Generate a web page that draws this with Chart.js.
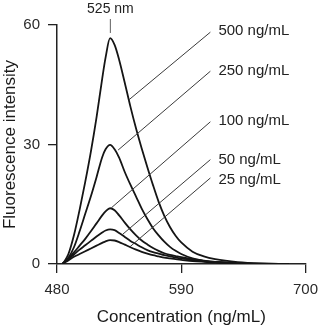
<!DOCTYPE html>
<html>
<head>
<meta charset="utf-8">
<script src="https://cdn.jsdelivr.net/npm/chart.js@4"></script>
<style>
  html, body { margin: 0; padding: 0; background: #ffffff; }
  canvas { display: block; }
</style>
</head>
<body>
<canvas id="c" width="326" height="330"></canvas>
<script>
// ---- data ----
const wavelengths = [485, 490, 495, 500, 505, 510, 515, 520, 523, 527, 531, 535, 540, 545, 550, 555, 560, 565, 570, 575, 580, 585, 590, 600, 610, 620, 640, 660, 685];
const series500 = [0, 2.4, 7.2, 13.6, 20.6, 28.2, 36.8, 46.5, 51.8, 56.7, 55.0, 51.3, 45.5, 39.5, 34.0, 29.0, 24.3, 19.8, 15.6, 12.1, 9.3, 7.1, 5.4, 3.1, 1.9, 1.2, 0.45, 0.12, 0];
const series250 = [0, 1.5, 4.2, 8.2, 12.6, 17.0, 21.8, 26.8, 28.8, 29.9, 28.8, 26.7, 23.1, 19.9, 16.9, 13.9, 11.3, 9.0, 7.2, 5.6, 4.3, 3.3, 2.5, 1.4, 0.85, 0.5, 0.18, 0.05, 0];
const series100 = [0.1, 1.3, 2.9, 4.6, 6.3, 8.2, 10.2, 12.2, 13.2, 14.0, 13.5, 12.2, 10.4, 8.7, 7.2, 5.9, 4.9, 4.0, 3.3, 2.7, 2.3, 2.0, 1.7, 1.2, 0.8, 0.5, 0.2, 0.06, 0];
const series50 = [0.1, 1.2, 2.4, 3.6, 4.7, 5.8, 6.9, 7.9, 8.4, 8.7, 8.5, 7.8, 6.8, 5.8, 5.0, 4.2, 3.5, 3.0, 2.6, 2.2, 1.9, 1.65, 1.4, 1.0, 0.7, 0.45, 0.18, 0.05, 0];
const series25 = [0.1, 0.9, 1.8, 2.5, 3.2, 3.9, 4.6, 5.3, 5.7, 6.0, 5.9, 5.5, 4.85, 4.2, 3.6, 3.05, 2.6, 2.2, 1.9, 1.6, 1.4, 1.2, 1.05, 0.75, 0.55, 0.38, 0.15, 0.05, 0];
const seriesLabels = ['500 ng/mL', '250 ng/mL', '100 ng/mL', '50 ng/mL', '25 ng/mL'];
const xTicks = [480, 590, 700];
const yTicks = [0, 30, 60];
// leader lines (data units): point on curve -> label end
const leaderCurveX = [543.6, 534.1, 528.1, 537.5, 544.5];
const leaderCurveY = [41.2, 28.6, 14.1, 7.3, 4.3];
const leaderEndX = 615.8;
const leaderEndY = [58.2, 48.4, 35.7, 26.2, 21.6];
const labelX = 622.9;
const labelY = [58.6, 48.6, 36.0, 26.1, 21.0];
const peakLabel = '525 nm';
const peakX = 527.3;
const peakLineY = [58.0, 61.5];
const peakLabelY = 64.0;

// ---- chart ----
const FONT = '"Liberation Sans", Arial, Helvetica, sans-serif';
const allSeries = [series500, series250, series100, series50, series25];

const annotations = {
  id: 'annotations',
  afterDraw(chart) {
    const ctx = chart.ctx;
    const xs = chart.scales.x, ys = chart.scales.y;
    ctx.save();
    // leader lines
    ctx.strokeStyle = '#3a3a3a';
    ctx.lineWidth = 1;
    for (let i = 0; i < seriesLabels.length; i++) {
      ctx.beginPath();
      ctx.moveTo(xs.getPixelForValue(leaderCurveX[i]), ys.getPixelForValue(leaderCurveY[i]));
      ctx.lineTo(xs.getPixelForValue(leaderEndX), ys.getPixelForValue(leaderEndY[i]));
      ctx.stroke();
    }
    // labels
    ctx.fillStyle = '#222';
    ctx.font = '15px ' + FONT;
    ctx.textAlign = 'left';
    ctx.textBaseline = 'middle';
    for (let i = 0; i < seriesLabels.length; i++) {
      ctx.fillText(seriesLabels[i], xs.getPixelForValue(labelX), ys.getPixelForValue(labelY[i]));
    }
    // peak marker
    ctx.strokeStyle = '#777';
    ctx.lineWidth = 1.2;
    ctx.beginPath();
    ctx.moveTo(xs.getPixelForValue(peakX), ys.getPixelForValue(peakLineY[0]));
    ctx.lineTo(xs.getPixelForValue(peakX), ys.getPixelForValue(peakLineY[1]));
    ctx.stroke();
    ctx.font = '14px ' + FONT;
    ctx.textAlign = 'center';
    ctx.fillText(peakLabel, xs.getPixelForValue(peakX), ys.getPixelForValue(peakLabelY));
    ctx.restore();
  }
};

new Chart(document.getElementById('c'), {
  type: 'line',
  data: {
    datasets: allSeries.map((s, i) => ({
      label: seriesLabels[i],
      data: wavelengths.map((w, j) => ({ x: w, y: s[j] })),
      borderColor: '#151515',
      borderWidth: 1.8,
      pointRadius: 0,
      fill: false,
      cubicInterpolationMode: 'monotone'
    }))
  },
  options: {
    responsive: false,
    animation: false,
    events: [],
    layout: { padding: { top: 25, right: 13, left: 0, bottom: 0 } },
    plugins: { legend: { display: false }, tooltip: { enabled: false } },
    scales: {
      x: {
        type: 'linear',
        min: xTicks[0],
        max: xTicks[xTicks.length - 1],
        afterBuildTicks: (s) => { s.ticks = xTicks.map(v => ({ value: v })); },
        afterFit: (s) => { s.height = 66; },
        grid: { display: true, drawOnChartArea: false, drawTicks: true, tickLength: 9, color: '#222', lineWidth: 1.3 },
        border: { display: true, color: '#222', width: 1.5 },
        ticks: { font: { family: FONT, size: 15 }, color: '#2a2a2a', padding: 8, maxRotation: 0 },
        title: { display: true, text: 'Concentration (ng/mL)', font: { family: FONT, size: 17 }, color: '#1a1a1a', padding: { top: 0, bottom: 2 } }
      },
      y: {
        type: 'linear',
        min: yTicks[0],
        max: yTicks[yTicks.length - 1],
        afterBuildTicks: (s) => { s.ticks = yTicks.map(v => ({ value: v })); },
        afterFit: (s) => { s.width = 57; },
        grid: { display: true, drawOnChartArea: false, drawTicks: true, tickLength: 9, color: '#222', lineWidth: 1.3 },
        border: { display: true, color: '#222', width: 1.5 },
        ticks: { font: { family: FONT, size: 15 }, color: '#2a2a2a', padding: 8 },
        title: { display: true, text: 'Fluorescence intensity', font: { family: FONT, size: 17 }, color: '#1a1a1a', padding: { top: 0, bottom: 0 } }
      }
    }
  },
  plugins: [annotations]
});
</script>
</body>
</html>
